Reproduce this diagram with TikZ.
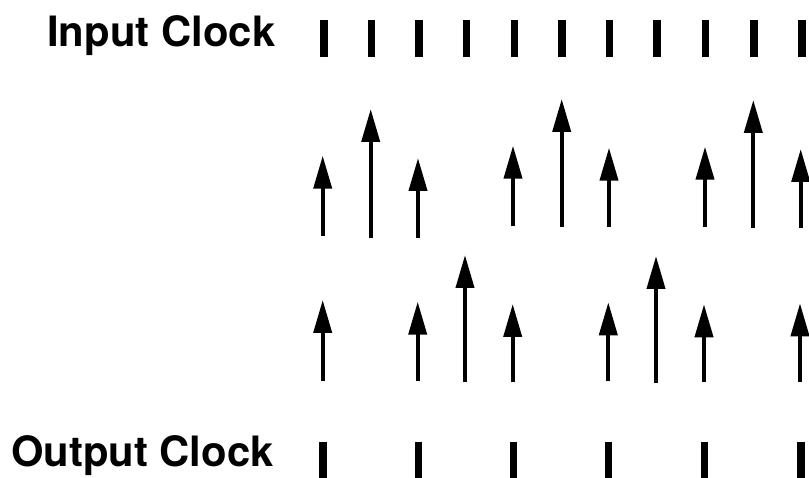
\documentclass[tikz,border=0pt]{standalone}
\usepackage{fontspec}
\setmainfont{TeX Gyre Heros}
\usetikzlibrary{arrows.meta}
\begin{document}
\begin{tikzpicture}[x=1pt,y=-1pt,
  lbl/.style={font=\fontsize{41.8}{48}\selectfont\bfseries, inner sep=0pt, anchor=base east},
  tick/.style={line width=7.5pt, line cap=butt},
  clk/.style={line width=4pt, line cap=butt, -{Triangle[length=33pt,width=18pt]}}]
\useasboundingbox (0,0) rectangle (809,478);
\clip (0,0) rectangle (809,478);
\node[lbl] (inlbl) at (275.5,46.7) {Input Clock};
\node[lbl] (outlbl) at (274,466.7) {Output Clock};
% input clock ticks
\foreach \x [count=\i] in {324,371.5,419,466.5,514.5,562,609.5,657,705.5,754,802}{
  \coordinate (it\i a) at (\x,20.5);
  \coordinate (it\i b) at (\x,57);
  \draw[tick] (it\i a) -- (it\i b);
}
% output clock ticks
\foreach \x [count=\i] in {323,418.5,513.5,608.5,704.5,801}{
  \coordinate (ot\i a) at (\x,441.5);
  \coordinate (ot\i b) at (\x,480);
  \draw[tick] (ot\i a) -- (ot\i b);
}
% upper row of arrows
\foreach \x/\b/\t [count=\i] in {322.7/236/155.7, 370.7/237.7/109, 418/238/158, 513/226/145.7, 561.7/226.7/99, 609/226.7/147.7, 705/226.7/146.7, 753.3/227.7/100, 800.7/227.7/149}{
  \coordinate (ua\i) at (\x,\b);
  \coordinate (ut\i) at (\x,\t);
  \draw[clk] (ua\i) -- (ut\i);
}
% lower row of arrows
\foreach \x/\b/\t [count=\i] in {322.7/380.7/300, 417.7/381/301.7, 465/381.7/255, 512.7/382.3/304, 608.3/381/302.3, 656/382.7/256, 704/382.3/304.3, 800/381.7/303.3}{
  \coordinate (la\i) at (\x,\b);
  \coordinate (lt\i) at (\x,\t);
  \draw[clk] (la\i) -- (lt\i);
}
\end{tikzpicture}
\end{document}
